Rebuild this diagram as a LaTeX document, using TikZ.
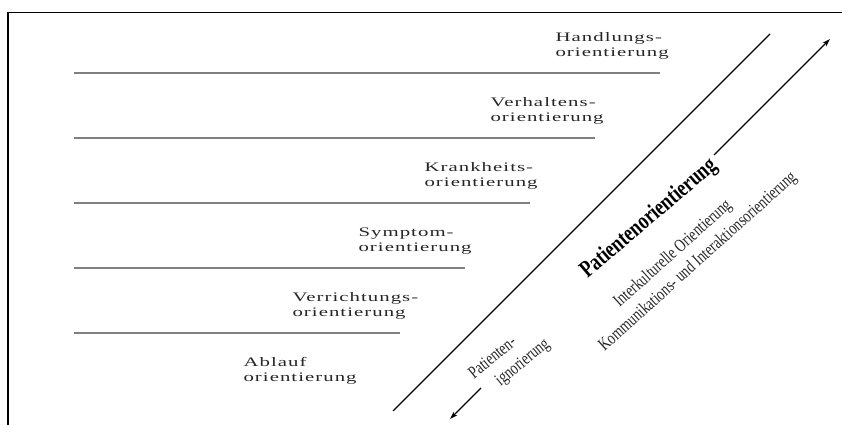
\documentclass[tikz,border=0pt]{standalone}
\usepackage{fontspec}
\setmainfont{Liberation Serif}
\newfontfamily\stufefont[FakeStretch=1.6,LetterSpace=8]{Liberation Serif}
\newfontfamily\schraegfont[FakeStretch=0.76]{Liberation Serif}
\usetikzlibrary{arrows.meta}
\tikzset{
  stufe/.style={anchor=west, align=left, inner sep=0pt, text=black!85,
    font=\stufefont\fontsize{13}{15}\selectfont},
  stufenlinie/.style={draw=gray, line width=1.1pt},
  schraeg/.style={rotate=42, inner sep=0pt, text=black!85,
    font=\schraegfont\fontsize{18}{20}\selectfont},
}
\begin{document}
\begin{tikzpicture}[x=1pt,y=-1pt,>={Stealth[length=8pt,width=5pt]},line width=1.1pt]
  \useasboundingbox (0,0) rectangle (842,425);
  % Rahmen
  \draw[line width=1.3pt] (842,12.5) -- (8,12.5) -- (8,425);
  % Stufen
  \foreach \i/\xl/\txt in {0/555/Handlungs-,1/490/Verhaltens-,2/424/Krankheits-,3/358/Symptom-,4/292/Verrichtungs-}{
    \draw[stufenlinie] (74,73+65*\i) -- (660-65*\i,73+65*\i);
    \node[stufe] (stufe\i) at (\xl,46+65*\i) {\txt\\orientierung};
  }
  \node[stufe] (stufe5) at (243,371) {Ablauf\\orientierung};
  % Diagonale
  \coordinate (d0) at (393,411);
  \coordinate (d1) at (770,34);
  \draw (d0) -- (d1);
  % Patientenorientierung
  \node[schraeg, rotate=-1.5, text=black, font=\schraegfont\bfseries\fontsize{24}{26}\selectfont] (po) at (649,219) {Patientenorientierung};
  \node[schraeg] (ik) at (673,254) {Interkulturelle Orientierung};
  \node[schraeg] (ki) at (698,262) {Kommunikations- und Interaktionsorientierung};
  \node[schraeg, rotate=-3] (pat) at (492,357) {Patienten-};
  \node[schraeg, rotate=-3] (ign) at (523,363) {ignorierung};
  \coordinate (o0) at (714,155);
  \coordinate (o1) at (830,39);
  \coordinate (u0) at (481,388);
  \coordinate (u1) at (450,419);
  \draw[->] (o0) -- (o1);
  \draw[->] (u0) -- (u1);
\end{tikzpicture}
\end{document}
